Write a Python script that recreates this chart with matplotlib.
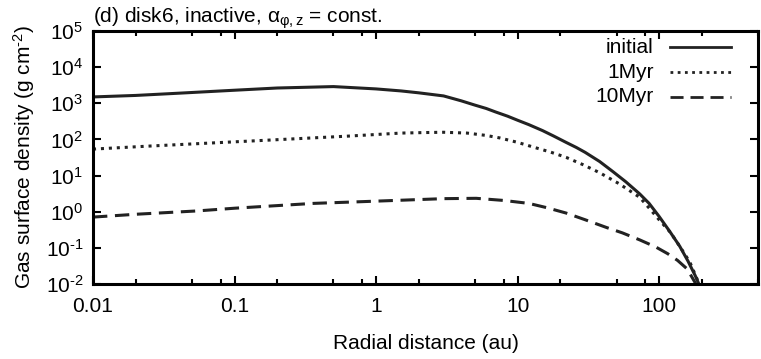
import numpy as np
import matplotlib
matplotlib.use('Agg')
import matplotlib.pyplot as plt
from matplotlib.ticker import FixedLocator, FixedFormatter, NullFormatter

plt.rcParams['font.family'] = ['Liberation Sans', 'DejaVu Sans']
plt.rcParams['mathtext.fontset'] = 'custom'
plt.rcParams['mathtext.rm'] = 'Liberation Sans'
plt.rcParams['mathtext.it'] = 'Liberation Sans'
plt.rcParams['mathtext.default'] = 'regular'

# Data (radius in au, surface density in g cm^-2)
r_init = [0.01, 0.02, 0.04, 0.1, 0.2, 0.5, 1.0, 1.5, 2.0, 3.0, 4, 5, 6, 7, 8.5, 10, 12, 15, 18, 22, 26,
          30, 38, 47, 58, 73, 85, 100, 120, 140, 160, 180, 192]
sig_init = [1500, 1650, 1900, 2300, 2650, 2900, 2500, 2200, 1950, 1600, 1170, 890, 720, 575, 440, 340, 257,
            176, 124, 83, 60, 44, 24.5, 13, 6.8, 3.1, 1.7, 0.74, 0.27, 0.11, 0.043, 0.017, 0.0095]

r_1myr = [0.01, 0.024, 0.12, 0.62, 1.5, 2.2, 3.0, 4.4, 6, 7.5, 10, 13, 17, 22, 29, 38, 52, 73, 86,
          100, 120, 140, 165, 192]
sig_1myr = [54, 65, 89, 123, 150, 155, 158, 150, 129, 110, 83, 61, 45, 32, 20, 12, 6, 2.5, 1.2,
            0.6, 0.27, 0.11, 0.04, 0.01]

r_10myr = [0.01, 0.02, 0.054, 0.1, 0.36, 0.8, 1.6, 3, 5.1, 8, 12, 16, 22, 30, 43, 55, 73, 95, 115,
           135, 158, 182]
sig_10myr = [0.71, 0.85, 1.05, 1.25, 1.7, 1.9, 2.1, 2.3, 2.35, 2.05, 1.7, 1.3, 0.92, 0.6, 0.36, 0.26,
             0.166, 0.105, 0.069, 0.045, 0.026, 0.01]

labels = ['initial', '1Myr', '10Myr']

xticks = [0.01, 0.1, 1, 10, 100]
xticklabels = ['0.01', '0.1', '1', '10', '100']
yticks = [1e-2, 1e-1, 1e0, 1e1, 1e2, 1e3, 1e4, 1e5]
yticklabels = ['10$^{\u20102}$', '10$^{\u20101}$', '10$^{0}$', '10$^{1}$', '10$^{2}$', '10$^{3}$',
               '10$^{4}$', '10$^{5}$']

col = '#222222'
fs = 15

fig, ax = plt.subplots(figsize=(7.61, 3.59), dpi=100)
fig.subplots_adjust(left=0.1222, right=0.9961, top=0.9136, bottom=0.2089)

styles = [dict(linestyle='-'),
          dict(linestyle=(0, (1, 1.6)), dash_capstyle='butt'),
          dict(linestyle=(0, (4.7, 2.5)), dash_capstyle='butt')]
series = [(r_init, sig_init), (r_1myr, sig_1myr), (r_10myr, sig_10myr)]
for (r, s), st in zip(series, styles):
    ax.plot(r, s, color=col, lw=2.2, **st)

ax.set_xscale('log')
ax.set_yscale('log')
ax.set_xlim(0.01, 500)
ax.set_ylim(1e-2, 1e5)

ax.xaxis.set_major_locator(FixedLocator(xticks))
ax.xaxis.set_major_formatter(FixedFormatter(xticklabels))
minors = [m * d for d in [0.01, 0.1, 1, 10, 100] for m in (2, 5, 8)]
ax.xaxis.set_minor_locator(FixedLocator(minors))
ax.xaxis.set_minor_formatter(NullFormatter())
ax.yaxis.set_major_locator(FixedLocator(yticks))
ax.yaxis.set_major_formatter(FixedFormatter(yticklabels))
ax.yaxis.set_minor_locator(FixedLocator([]))

ax.tick_params(which='both', direction='in', top=True, right=True, labelsize=fs, color='black')
ax.tick_params(which='major', length=6, width=1.5, pad=7)
ax.tick_params(axis='x', which='major', pad=9)
ax.tick_params(which='minor', length=3.5, width=1.5)
for sp in ax.spines.values():
    sp.set_linewidth(2.2)

ax.set_xlabel('Radial distance (au)', fontsize=fs, labelpad=13)
ax.set_ylabel('Gas surface density (g cm$^{\u20102}$)', fontsize=fs, labelpad=6)
ax.set_title('(d) disk6, inactive, α$_{φ,z}$ = const.', loc='left', fontsize=fs, pad=5)

# gnuplot-style key: right-aligned text, sample to the right
for i, (lab, st) in enumerate(zip(labels, styles)):
    yk = 0.935 - i * 0.097
    ax.text(0.843, yk, lab, transform=ax.transAxes, ha='right', va='center', fontsize=fs)
    ax.plot([0.867, 0.96], [yk, yk], transform=ax.transAxes, color=col, lw=2.0, **st)

fig.savefig('out.png', dpi=100)
